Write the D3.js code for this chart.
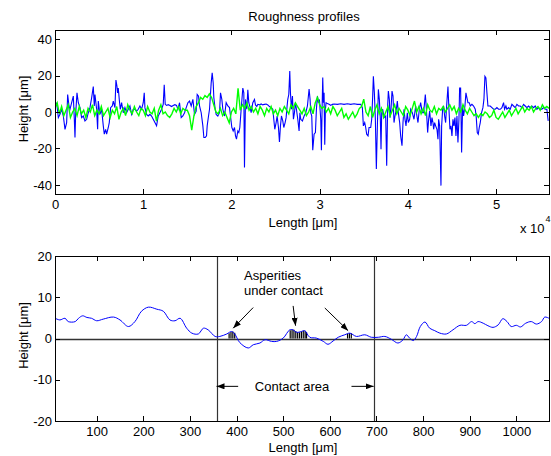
<!DOCTYPE html>
<html><head><meta charset="utf-8">
<script src="https://cdn.jsdelivr.net/npm/d3@7"></script>
<style>
body{margin:0;background:#fff;}
svg{display:block;font-family:"Liberation Sans",Arial,Helvetica,sans-serif;}
</style></head><body>
<svg id="c" width="551" height="456"></svg>
<script>
// ---------- data ----------
const topTitle = "Roughness profiles";
const xLabel = "Length [\u03bcm]";
const yLabel = "Height [\u03bcm]";
const topXTicks = [0, 10000, 20000, 30000, 40000, 50000];
const topXTickLabels = ["0", "1", "2", "3", "4", "5"];
const topYTicks = [-40, -20, 0, 20, 40];
const bottomXTicks = [100, 200, 300, 400, 500, 600, 700, 800, 900, 1000];
const bottomYTicks = [-20, -10, 0, 10, 20];

// blue profile (top): [length µm, height µm]
const blueProfile = [
[0,2.4],[189,5.1],[378,-3.1],[566,-1.3],[755,1.5],[944,-2.2],[1133,-9.5],[1321,-5.8],[1435,9.6],[1586,3.3],[1699,1.5],[1888,5.1],[2076,8.7],[2190,-4],[2265,-14],[2341,-1.3],[2492,10.5],[2643,5.1],[2831,2.4],[3020,-3.1],[3209,-2.2],[3398,-4.9],[3586,-4],[3775,-0.4],[3964,2.4],[4153,7.8],[4341,14],[4455,3.3],[4530,9.6],[4719,1.5],[4832,-9.5],[4908,6],[5096,-1.3],[5285,1.5],[5474,-7.6],[5587,-12.2],[5738,-9.5],[5851,-12.2],[6040,-8.5],[6153,-5.8],[6304,2.4],[6493,3.3],[6606,6],[6795,2.4],[6908,17.5],[7022,14.2],[7097,10.5],[7173,13.1],[7286,6.9],[7399,1.5],[7550,5.1],[7739,-0.4],[7928,2.4],[8116,-0.4],[8305,1.5],[8494,3.3],[8683,-1.3],[8871,1.5],[9060,1.5],[9249,0.5],[9438,1.5],[9626,3.3],[9815,1.5],[10004,5.1],[10117,10.5],[10193,2.4],[10381,-1.3],[10570,-2.2],[10759,-1.3],[10948,-2.2],[11136,-4],[11325,-5.8],[11514,-7.6],[11703,-2.2],[11891,-0.4],[12080,1.5],[12269,4.2],[12382,15],[12495,4.2],[12646,3.6],[12835,4],[13024,3.6],[13213,3],[13401,3.6],[13590,4],[13779,3.6],
[13930,1.5],[14119,5.1],[14308,-3.1],[14496,-2.2],[14685,-0.4],[14874,2.4],[15063,5.1],[15251,6],[15440,3.3],[15629,6.9],[15818,-1.3],[16006,0.5],[16120,9.6],[16271,8.7],[16384,3.3],[16573,-0.4],[16761,-7.6],[16875,-14],[17026,-14],[17177,-13.1],[17252,-7.6],[17403,-2.2],[17516,1.5],[17705,16],[17818,21.5],[17932,16],[18007,7.8],[18158,1.5],[18271,-1.3],[18460,-2.2],[18649,-0.4],[18762,10.5],[18913,6.9],[19026,1.5],[19215,-2.2],[19404,5.1],[19593,3.3],[19781,2.4],[19895,-2.2],[20046,-8.5],[20197,-10.4],[20348,-8.5],[20461,-13.1],[20574,-14.9],[20725,-10.4],[20838,-11.3],[20952,-8.5],[21103,1.5],[21291,13.1],[21405,10.5],[21480,-30.5],[21593,6.9],[21744,1.5],[21858,12.2],[21971,5.1],[22122,2.4],[22235,-0.4],[22424,5.1],[22613,6.9],[22726,3.9],[22877,3],[22990,4.2],[23179,3.9],[23368,4.4],[23556,3.9],[23745,4.2],[23934,4.4],[24123,3.9],[24311,3],[24500,2.4],[24689,1.5],[24802,-4],[24915,-9.5],[25066,-5.8],[25180,-2.2],[25331,-8.5],[25444,-16.5],[25557,-7.6],[25670,-2.2],[25821,-4.9],[25935,-8.5],[26086,-5.8],[26199,-3.1],[26312,3.3],[26388,6.9],[26501,9.6],[26614,22.5],[26690,10.5],[26803,1.5],[26916,8.7],[27029,-4],[27143,-0.4],[27256,5.1],[27369,1.5],[27520,-4],[27670,-10.4],[27760,-0.4],
[27860,-4],[28049,-4.9],[28238,-2.2],[28426,-0.4],[28615,3.3],[28804,12.6],[28917,6.9],[28993,-0.4],[29106,-2.2],[29219,-21],[29370,-12.2],[29521,-11.3],[29634,1.5],[29748,8.7],[29861,5.1],[29974,6.9],[30125,-4],[30201,-21],[30276,1.5],[30352,18.9],[30427,5.1],[30503,10.5],[30578,-18],[30654,1.5],[30729,5.1],[30880,4.6],[31069,4.2],[31258,3.6],[31446,4.2],[31635,4.4],[32013,4.2],[32390,4.5],[32768,4.2],[33145,4.5],[33523,4.2],[33900,4.5],[34278,4.2],[34655,4.2],[34844,2.4],[34957,-7.6],[35108,-5.8],[35221,-8.5],[35335,-12.2],[35486,-13.1],[35599,-8.5],[35788,-8.5],[35901,-4],[36014,8.7],[36090,19.6],[36203,10.5],[36316,-4],[36429,-31.3],[36545,-7.6],[36656,12.4],[36769,6.9],[36882,-4],[36958,-20.4],[37033,-0.4],[37147,1.5],[37298,-3.1],[37486,-2.2],[37600,-29.5],[37713,3.3],[37788,11.5],[37902,6.9],[37977,-3.1],[38090,1.5],[38204,11.5],[38317,8.7],[38430,-5.8],[38543,-2.2],[38694,1.5],[38808,6],[38921,-0.4],[39072,-5.8],[39185,-13.1],[39336,-18.5],[39449,-5.8],[39563,1.5],[39676,-4],[39789,-7.6],[39940,-0.4],[40053,-5.8],[40204,-4],[40318,1.5],[40506,-0.4],[40695,-4],[40884,3.3],[40997,-1.3],[41148,-5.8],[41299,1.5],[41450,5.1],[41639,-0.4],
[41790,-0.4],[41979,9.6],[42092,2.4],[42243,-11.3],[42356,-4],[42470,0.5],[42620,-7.6],[42734,-3.1],[42847,-5.8],[42923,-9.5],[43036,-5.8],[43149,-7.6],[43300,-9.5],[43413,-14.9],[43489,-4],[43602,-7.6],[43678,-24],[43753,-40.4],[43829,-7.6],[43942,1.5],[44055,3.3],[44168,-2.2],[44282,-5.8],[44433,6],[44546,14],[44659,1.5],[44772,-9.5],[44886,-7.6],[44999,-13.1],[45112,-4],[45225,-7.6],[45339,-3.1],[45452,-13.1],[45565,-2.2],[45678,-16.7],[45792,-4],[45867,13.1],[45980,13.1],[46094,-22.2],[46207,3.3],[46320,-2.2],[46471,3.3],[46584,10.5],[46698,7.8],[46811,5.1],[46962,5.1],[47075,3.3],[47264,4.2],[47453,3.3],[47641,1.5],[47755,-3.1],[47868,-11.3],[47981,-12.2],[48094,-8.5],[48208,-5.8],[48359,-0.4],[48510,2.4],[48623,6.9],[48736,19.6],[48849,18.7],[48963,10.5],[49076,3.3],[49227,3.3],[49340,3.3],[49529,2.4],[49718,1.5],[49906,1.5],[50095,2.4],[50284,1.5],[50473,1.5],[50661,2.4],[50850,5.1],[50963,1.5],[51114,3.3],[51228,1.5],[51416,2.4],[51605,1.5],[51794,4.2],[51983,3.3],[52171,2.4],[52360,4.2],[52549,3.3],[52738,3.3],[52926,2.4],[53115,4.2],[53304,3.3],[53493,2.4],[53681,3.3],[53870,2.4],[54059,3.3],[54248,2.4],[54436,3.3],[54625,1.5],[54814,2.4],[55003,1.5],[55191,1.5],[55380,2.4],[55569,1.5],[55758,1.5],[55909,-4.9]
];

// green profile (top): heights sampled every greenStep µm from 0
const greenStep = 250;
const greenProfile = [
2,5,-1,3,-2,1,4,-3,0,2,-2,3,-1,1,-3,2,0,4,-2,1,
-1,3,-2,0,2,-3,1,-1,3,-4,0,2,-2,4,1,-1,3,0,-2,2,
1,-2,3,0,-1,2,-5,1,4,-1,0,-2,-3,-1,2,0,3,-1,2,1,
1,-2,-10,-2,3,5,8,7,9,8,10,8,4,0,-1,2,-2,0,-3,-6,
0,2,-1,13,1,4,2,5,1,3,0,2,-1,3,1,-2,2,0,3,-1,
1,-2,2,0,3,1,-1,4,2,5,3,1,-1,2,-2,0,3,-1,5,8,
4,2,3,0,2,-1,3,1,-2,0,2,-3,-1,-4,-2,0,-3,-1,2,3,
7,0,-2,3,-3,1,4,-1,2,-3,0,3,-2,1,4,-1,2,0,-2,3,
1,-2,2,6,0,3,-1,2,-2,4,1,0,3,-1,2,1,3,0,2,4,
1,3,-1,2,0,4,1,-1,2,0,-2,-1,-3,-1,-2,0,-1,-3,-2,1,
-3,-4,-2,0,-3,-1,1,-2,0,2,-1,1,3,0,2,1,3,0,2,3,1,4,2,3,2
];

// bottom profile: [length µm, height µm]
const contactProfile = [
[11,4.9],[21,4.5],[32,4.9],[39,4.1],[54,4.1],[61,4.9],[70,5.5],[79,5.1],[89,4.9],[100,4.3],[114,4.7],[136,5.2],[150,4.5],[168,2.9],[182,4.1],[196,6.6],[211,7.6],[229,7.1],[243,6.6],[257,4.5],[268,4.3],[279,4.9],[293,2.5],[304,1.3],[318,1.1],[329,2.5],[339,2.1],[354,0.5],[364,0.5],[379,1.1],[389,1.7],[396,1.1],[407,-1],[425,-2.3],[436,-1.5],[450,-1.1],[461,-0.3],[475,-0.7],[486,-0.7],[500,0.1],[514,2.1],[521,2.1],[529,1.5],[539,1.7],[546,1.9],[557,0.3],[571,0.1],[586,-0.7],[596,-1.4],[607,-0.6],[618,0.3],[632,0.9],[643,1.3],[657,0.5],[675,0.9],[689,0.3],[704,0.3],[718,0.5],[732,-0.2],[746,-1.1],[757,-0.3],[764,0.9],[771,0.1],[779,-0.5],[786,0.5],[794,2.9],[804,4],[814,2.5],[825,1.9],[836,1.3],[850,1.1],[864,2.1],[879,3.2],[893,3.2],[904,4.1],[911,3.6],[918,4.1],[929,3.7],[939,3.1],[950,2.7],[961,3.3],[971,4.8],[980,4.1],[989,2.9],[1000,3.2],[1009,2.8],[1020,3.7],[1032,4.1],[1043,3.5],[1054,4.1],[1061,5.2],[1070,4.9]
];
const contactBounds = [357, 694];
const hatchX   = [384,388,392,396, 515,519,523,527,531,535,539,543,547,550, 638,642,646];
const hatchTop = [1.3,1.6,1.7,1.4, 2.0,2.2,2.1,1.8,1.5,1.5,1.7,1.9,1.9,1.6, 1.2,1.3,1.3];
const annotAsperities = ["Asperities", "under contact"];
const annotContact = "Contact area";

// ---------- drawing ----------
const svg = d3.select("#c");
const FS = 13;
const TICK = 5;

svg.append("defs").append("marker")
  .attr("id", "ah").attr("markerUnits", "userSpaceOnUse")
  .attr("markerWidth", 8).attr("markerHeight", 6)
  .attr("refX", 8).attr("refY", 3).attr("orient", "auto")
  .append("path").attr("d", "M0,0 L8,3 L0,6 Z").attr("fill", "#000");

function drawAxes(x, y, L, R, T, B, xTicks, yTicks, xFmt) {
  const g = svg.append("g").attr("font-size", FS);
  const style = sel => {
    sel.attr("font-family", null).attr("font-size", null);
    sel.selectAll("path.domain").attr("stroke", "#000");
    sel.selectAll(".tick line").attr("stroke", "#000");
    sel.selectAll(".tick text").attr("fill", "#000");
    sel.attr("shape-rendering", "crispEdges");
  };
  g.append("g").attr("transform", `translate(0,${B})`)
    .call(d3.axisBottom(x).tickValues(xTicks).tickFormat(xFmt).tickSizeInner(-TICK).tickSizeOuter(0).tickPadding(6)).call(style);
  g.append("g").attr("transform", `translate(0,${T})`)
    .call(d3.axisTop(x).tickValues(xTicks).tickFormat("").tickSizeInner(-TICK).tickSizeOuter(0)).call(style);
  g.append("g").attr("transform", `translate(${L},0)`)
    .call(d3.axisLeft(y).tickValues(yTicks).tickFormat(d => String(d).replace("\u2212", "-")).tickSizeInner(-TICK).tickSizeOuter(0).tickPadding(3)).call(style);
  g.append("g").attr("transform", `translate(${R},0)`)
    .call(d3.axisRight(y).tickValues(yTicks).tickFormat("").tickSizeInner(-TICK).tickSizeOuter(0)).call(style);
}

// ----- top panel -----
const tL = 55, tR = 549, tT = 30, tB = 194;
const xTop = d3.scaleLinear().domain([0, 56000]).range([tL, tR]);
const yTop = d3.scaleLinear().domain([-45, 45]).range([tB, tT]);

svg.append("clipPath").attr("id", "clipTop").append("rect")
  .attr("x", tL).attr("y", tT).attr("width", tR - tL + 1).attr("height", tB - tT + 1);

const gTop = svg.append("g").attr("clip-path", "url(#clipTop)");
gTop.append("path").datum(blueProfile)
  .attr("fill", "none").attr("stroke", "#0000ff").attr("stroke-width", 1.1)
  .attr("d", d3.line().x(d => xTop(d[0])).y(d => yTop(d[1])));
gTop.append("path").datum(greenProfile)
  .attr("fill", "none").attr("stroke", "#00ff00").attr("stroke-width", 1.4)
  .attr("d", d3.line().x((d, i) => xTop(i * greenStep)).y(d => yTop(d)));

drawAxes(xTop, yTop, tL, tR, tT, tB, topXTicks, topYTicks, (d, i) => topXTickLabels[i]);

svg.append("text").attr("x", 304).attr("y", 21).attr("text-anchor", "middle")
  .attr("font-size", FS).text(topTitle);
svg.append("text").attr("x", 303).attr("y", 227).attr("text-anchor", "middle")
  .attr("font-size", FS).text(xLabel);
svg.append("text").attr("transform", `translate(27.6,${(tT + tB) / 2 - 3}) rotate(-90)`)
  .attr("text-anchor", "middle").attr("font-size", FS).text(yLabel);
const mult = svg.append("text").attr("x", 520).attr("y", 233).attr("font-size", FS);
mult.append("tspan").text("x 10");
mult.append("tspan").attr("font-size", 9).attr("dy", -11).attr("dx", 1).text("4");

// ----- bottom panel -----
const bL = 55, bR = 549, bT = 256, bB = 421;
const xBot = d3.scaleLinear().domain([10.6, 1070]).range([bL, bR]);
const yBot = d3.scaleLinear().domain([-20, 20]).range([bB, bT]);

svg.append("clipPath").attr("id", "clipBot").append("rect")
  .attr("x", bL).attr("y", bT).attr("width", bR - bL + 1).attr("height", bB - bT + 1);
const gBot = svg.append("g").attr("clip-path", "url(#clipBot)");

gBot.append("line").attr("x1", bL).attr("x2", bR)
  .attr("y1", Math.round(yBot(0)) + 0.5).attr("y2", Math.round(yBot(0)) + 0.5)
  .attr("stroke", "#333").attr("stroke-width", 1.3);
gBot.selectAll("line.cb").data(contactBounds).join("line").attr("class", "cb")
  .attr("x1", d => Math.round(xBot(d)) + 0.5).attr("x2", d => Math.round(xBot(d)) + 0.5)
  .attr("y1", bT).attr("y2", bB).attr("stroke", "#333").attr("stroke-width", 1.2);
gBot.selectAll("line.h").data(hatchX).join("line").attr("class", "h")
  .attr("x1", d => xBot(d)).attr("x2", d => xBot(d))
  .attr("y1", yBot(0)).attr("y2", (d, i) => yBot(hatchTop[i]))
  .attr("stroke", "#000").attr("stroke-width", 1.2);
gBot.append("path").datum(contactProfile)
  .attr("fill", "none").attr("stroke", "#0000ff").attr("stroke-width", 1)
  .attr("d", d3.line().curve(d3.curveCatmullRom.alpha(0.5)).x(d => xBot(d[0])).y(d => yBot(d[1])));

drawAxes(xBot, yBot, bL, bR, bT, bB, bottomXTicks, bottomYTicks, d => String(d));

svg.append("text").attr("x", 303).attr("y", 452).attr("text-anchor", "middle")
  .attr("font-size", FS).text(xLabel);
svg.append("text").attr("transform", `translate(27.6,${(bT + bB) / 2 - 3}) rotate(-90)`)
  .attr("text-anchor", "middle").attr("font-size", FS).text(yLabel);

svg.append("text").attr("x", xBot(416)).attr("y", yBot(14.3)).attr("font-size", FS).text(annotAsperities[0]);
svg.append("text").attr("x", xBot(416)).attr("y", yBot(10.5)).attr("font-size", FS).text(annotAsperities[1]);
const arrows = [
  [[435.6, 7.5], [392.7, 2.5]],
  [[521.3, 7.9], [526.5, 3.1]],
  [[589.2, 7.4], [639.2, 1.9]],
  [[403.4, -11.6], [contactBounds[0], -11.6]],
  [[646.4, -11.6], [contactBounds[1], -11.6]]
];
svg.selectAll("line.arr").data(arrows).join("line").attr("class", "arr")
  .attr("x1", d => xBot(d[0][0])).attr("y1", d => yBot(d[0][1]))
  .attr("x2", d => xBot(d[1][0])).attr("y2", d => yBot(d[1][1]))
  .attr("stroke", "#000").attr("stroke-width", 1).attr("marker-end", "url(#ah)");
svg.append("text").attr("x", xBot(439.2)).attr("y", yBot(-12.7)).attr("font-size", FS).text(annotContact);
</script>
</body></html>
